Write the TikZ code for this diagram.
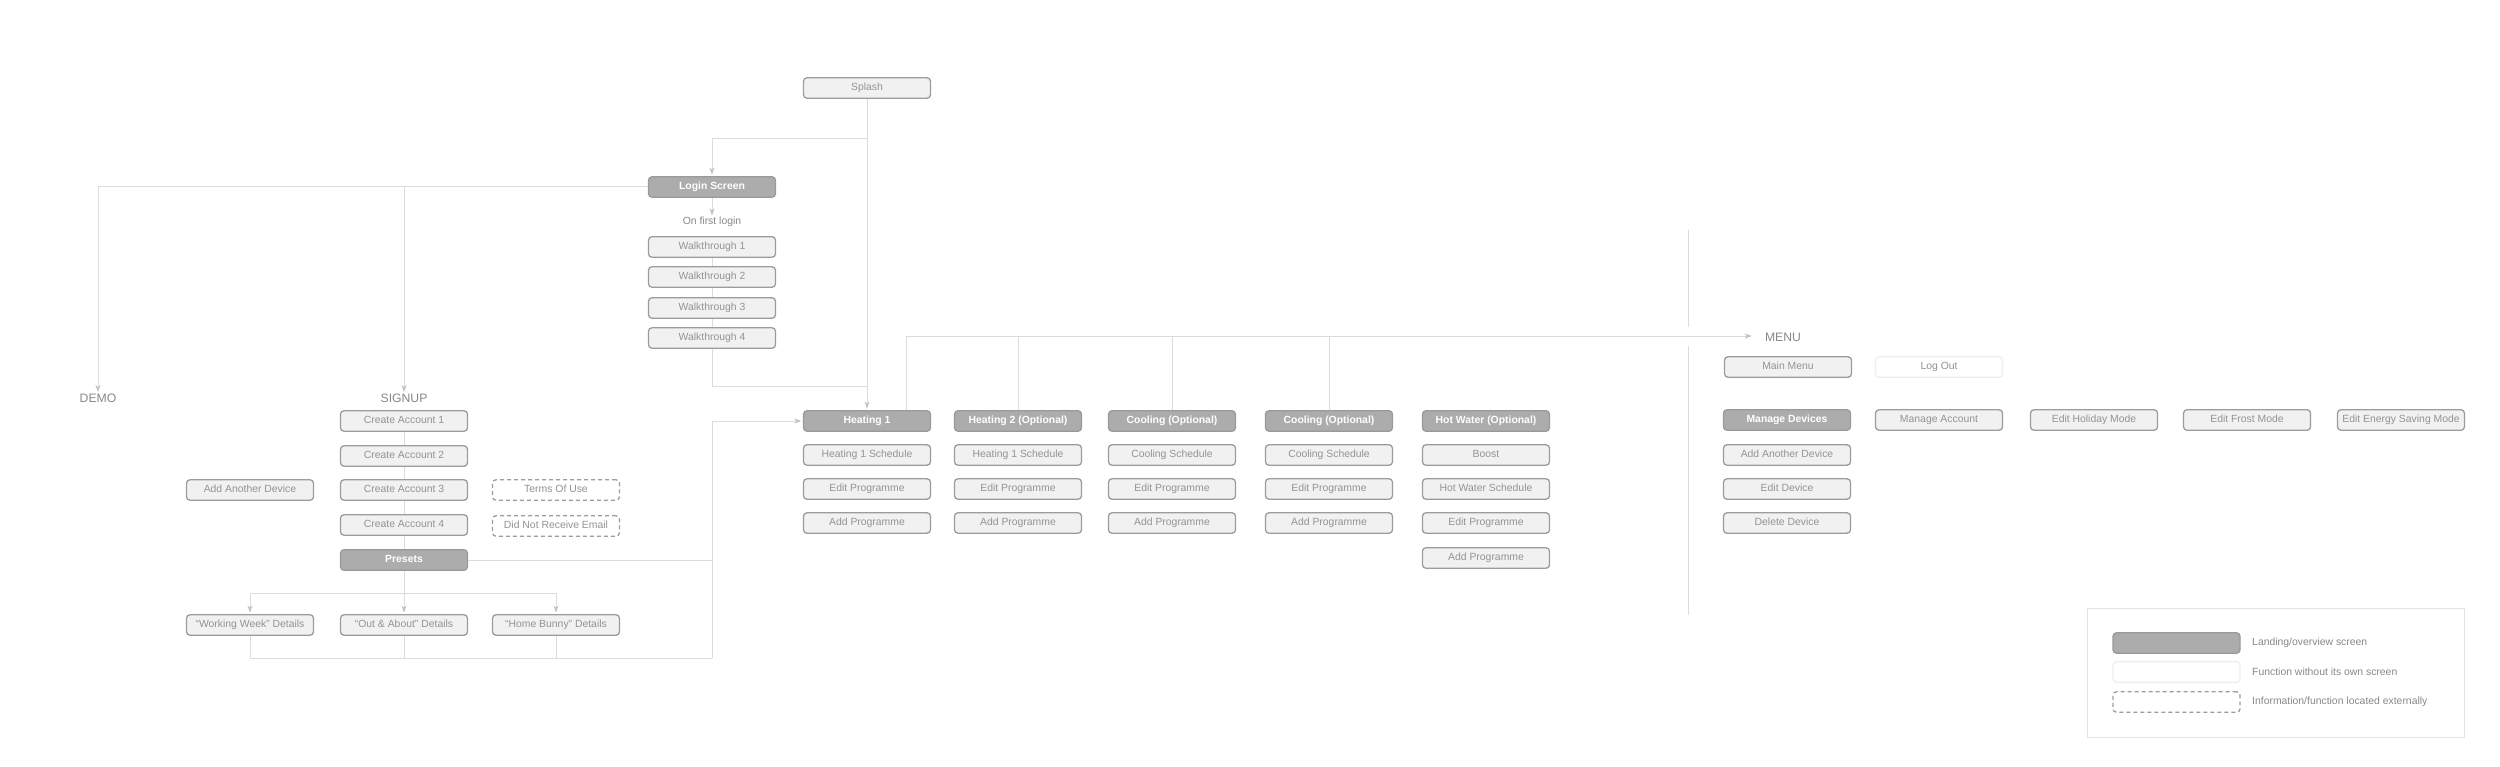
\documentclass[tikz,border=0pt]{standalone}
\usepackage{fontspec}
\setmainfont{Liberation Sans}
\usetikzlibrary{arrows.meta}
\definecolor{linecol}{HTML}{DCDCDC}
\definecolor{arrowcol}{HTML}{C2C2C2}
\definecolor{boxborder}{HTML}{9C9C9C}
\definecolor{boxfill}{HTML}{F1F1F1}
\definecolor{txtcol}{HTML}{939393}
\definecolor{darkfill}{HTML}{ACACAC}
\definecolor{darkborder}{HTML}{9A9A9A}
\definecolor{labelcol}{HTML}{888888}
\definecolor{faintborder}{HTML}{EEEEEE}
\definecolor{framecol}{HTML}{E3E3E3}
\newcommand\bxfont{\fontsize{10.4}{12}\selectfont}
\newcommand\hdfont{\fontsize{12.2}{14}\selectfont}
\tikzset{
  scrbox/.style={rounded corners=3.5pt, draw=boxborder, fill=boxfill, line width=1.3pt,
    minimum width=127pt, minimum height=20.5pt, inner sep=0pt, text height=7.5pt, text depth=2pt,
    font=\bxfont, text=txtcol},
  landbox/.style={scrbox, fill=darkfill, draw=darkborder, text=white, font=\bxfont\bfseries},
  nofuncbox/.style={scrbox, fill=white, draw=faintborder},
  extbox/.style={scrbox, fill=white, dash pattern=on 4pt off 3pt},
  headlbl/.style={font=\hdfont, text=labelcol, inner sep=0pt},
  smalllbl/.style={font=\bxfont, text=labelcol, inner sep=0pt},
  conn/.style={draw=linecol, line width=1pt},
  arr/.style={conn, -{Stealth[length=7pt,width=5pt,inset=2pt,color=arrowcol]}, shorten >=1.5pt}
}
\begin{document}
\begin{tikzpicture}[x=1pt,y=-1pt]
\useasboundingbox[fill=white] (0,0) rectangle (2500,767);

% ---- login / walkthrough ----
\node[scrbox] (sp) at (867,88) {Splash};
\node[landbox] (login) at (712,187) {Login Screen};
\node[smalllbl] (ofl) at (712,222) {On first login};
\node[scrbox] (w1) at (712,247) {Walkthrough 1};
\node[scrbox] (w2) at (712,277) {Walkthrough 2};
\node[scrbox] (w3) at (712,308) {Walkthrough 3};
\node[scrbox] (w4) at (712,338) {Walkthrough 4};

% ---- demo / signup ----
\node[headlbl] (demo) at (98,398) {DEMO};
\node[headlbl] (signup) at (404,398) {SIGNUP};
\node[scrbox] (ca1) at (404,421) {Create Account 1};
\node[scrbox] (ca2) at (404,456) {Create Account 2};
\node[scrbox] (ca3) at (404,490) {Create Account 3};
\node[scrbox] (ca4) at (404,525) {Create Account 4};
\node[landbox] (pre) at (404,560) {Presets};
\node[scrbox] (aad) at (250,490) {Add Another Device};
\node[extbox] (tou) at (556,490) {Terms Of Use};
\node[extbox] (dnr) at (556,526) {Did Not Receive Email};
\node[scrbox] (ww) at (250,625) {“Working Week” Details};
\node[scrbox] (oa) at (404,625) {“Out \& About” Details};
\node[scrbox] (hb) at (556,625) {“Home Bunny” Details};

% ---- heating columns ----
\node[landbox] (h1) at (867,421) {Heating 1};
\node[scrbox] (h1s) at (867,455) {Heating 1 Schedule};
\node[scrbox] (h1e) at (867,489) {Edit Programme};
\node[scrbox] (h1a) at (867,523) {Add Programme};
\node[landbox] (h2) at (1018,421) {Heating 2 (Optional)};
\node[scrbox] (h2s) at (1018,455) {Heating 1 Schedule};
\node[scrbox] (h2e) at (1018,489) {Edit Programme};
\node[scrbox] (h2a) at (1018,523) {Add Programme};
\node[landbox] (c1) at (1172,421) {Cooling (Optional)};
\node[scrbox] (c1s) at (1172,455) {Cooling Schedule};
\node[scrbox] (c1e) at (1172,489) {Edit Programme};
\node[scrbox] (c1a) at (1172,523) {Add Programme};
\node[landbox] (c2) at (1329,421) {Cooling (Optional)};
\node[scrbox] (c2s) at (1329,455) {Cooling Schedule};
\node[scrbox] (c2e) at (1329,489) {Edit Programme};
\node[scrbox] (c2a) at (1329,523) {Add Programme};
\node[landbox] (hw) at (1486,421) {Hot Water (Optional)};
\node[scrbox] (hwb) at (1486,455) {Boost};
\node[scrbox] (hws) at (1486,489) {Hot Water Schedule};
\node[scrbox] (hwe) at (1486,523) {Edit Programme};
\node[scrbox] (hwa) at (1486,558) {Add Programme};

% ---- menu ----
\node[headlbl] (menu) at (1783,337) {MENU};
\node[scrbox] (mm) at (1788,367) {Main Menu};
\node[nofuncbox] (lo) at (1939,367) {Log Out};
\node[landbox] (md) at (1787,420) {Manage Devices};
\node[scrbox] (mad) at (1787,455) {Add Another Device};
\node[scrbox] (ed) at (1787,489) {Edit Device};
\node[scrbox] (dd) at (1787,523) {Delete Device};
\node[scrbox] (ma) at (1939,420) {Manage Account};
\node[scrbox] (ehm) at (2094,420) {Edit Holiday Mode};
\node[scrbox] (efm) at (2247,420) {Edit Frost Mode};
\node[scrbox] (esm) at (2401,420) {Edit Energy Saving Mode};

% ---- connectors ----
\coordinate (j1) at (867,139);
\coordinate (j2) at (867,386);
\draw[arr] (sp.south) -- (h1.north);
\draw[arr] (j1) -| (login.north);
\draw[arr] (login.west) -| (demo.north);
\coordinate (jl) at (404,187);
\draw[arr] (jl) -- (signup.north);
\draw[arr] (login.south) -- (ofl.north);
\draw[conn] (w1.south) -- (w2.north);
\draw[conn] (w2.south) -- (w3.north);
\draw[conn] (w3.south) -- (w4.north);
\draw[conn] (w4.south) |- (j2);

\draw[conn] (ca1.south) -- (ca2.north);
\draw[conn] (ca2.south) -- (ca3.north);
\draw[conn] (ca3.south) -- (ca4.north);
\draw[conn] (ca4.south) -- (pre.north);
\coordinate (jp) at (404,593);
\draw[arr] (pre.south) -- (oa.north);
\draw[arr] (jp) -| (ww.north);
\draw[arr] (jp) -| (hb.north);
\coordinate (jb) at (712,658);
\draw[conn] (ww.south) |- (jb);
\draw[conn] (oa.south) -- (oa.south |- jb);
\draw[conn] (hb.south) -- (hb.south |- jb);
\draw[conn] (pre.east) -- (pre.east -| jb);
\draw[arr] (jb) |- (h1.west);

\coordinate (t1) at (906,336);
\draw[conn] (t1) -- (t1 |- h1.north);
\draw[arr, shorten >=13pt] (t1) -- (menu.west |- t1);
\draw[conn] (h2.north) -- (h2.north |- t1);
\draw[conn] (c1.north) -- (c1.north |- t1);
\draw[conn] (c2.north) -- (c2.north |- t1);

% separator with hop
\draw[conn] (1688,230) -- (1688,327);
\draw[conn] (1688,346) -- (1688,615);

% ---- legend ----
\draw[draw=framecol, line width=1pt] (2087,608) rectangle (2464,737);
\node[landbox] (lg1) at (2176.5,643) {};
\node[nofuncbox] (lg2) at (2176.5,672) {};
\node[extbox] (lg3) at (2176.5,702) {};
\node[smalllbl, anchor=west] (lt1) at (2252,643) {Landing/overview screen};
\node[smalllbl, anchor=west] (lt2) at (2252,672) {Function without its own screen};
\node[smalllbl, anchor=west] (lt3) at (2252,702) {Information/function located externally};
\end{tikzpicture}
\end{document}
